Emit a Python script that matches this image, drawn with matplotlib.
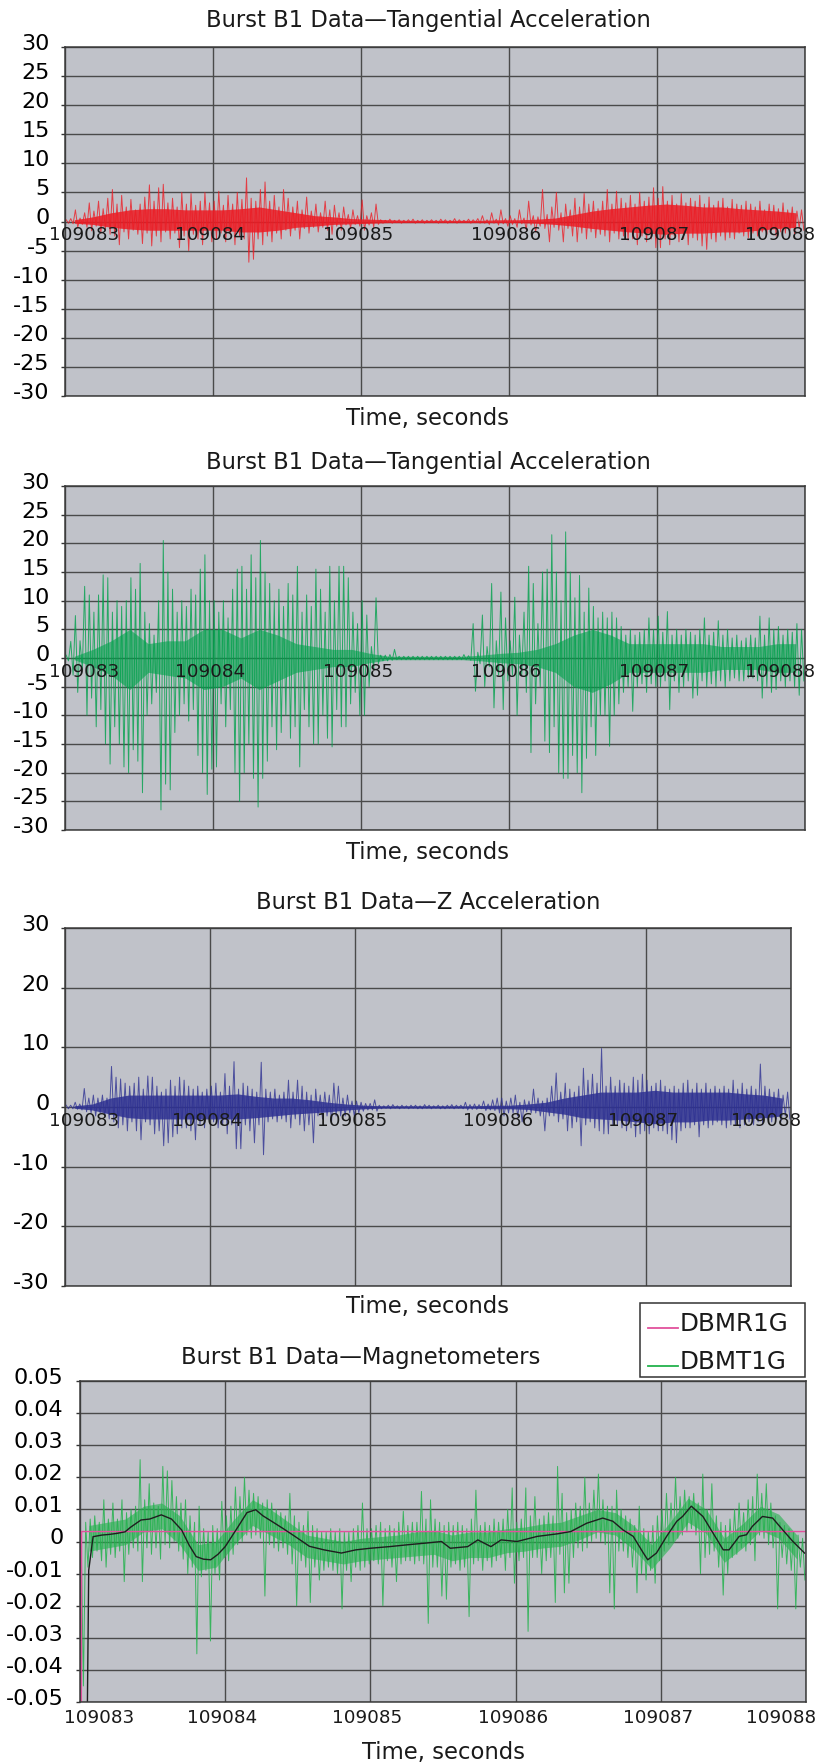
import matplotlib.pyplot as plt
from matplotlib.patches import Rectangle
from matplotlib.lines import Line2D
from matplotlib.transforms import ScaledTranslation
import numpy as np

T0, T1 = 109083, 109088
xtick_vals = [109083, 109084, 109085, 109086, 109087, 109088]

# spike tops / bottoms, one pair per 1/32 s, one row per second
red_hi = [0.3, 0.5, 2.0, 0.6, 1.5, 3.2, 1.8, 3.5, 2.2, 4.0, 5.5, 3.0, 4.5, 2.5, 3.8, 2.0, 3.0, 4.2, 6.3, 3.5, 5.8, 6.4, 3.2, 4.0, 2.5, 5.0, 3.0, 4.8, 2.8, 3.5, 5.0, 3.2,
          3.5, 5.2, 2.8, 4.5, 3.0, 5.0, 3.8, 7.5, 4.0, 3.5, 5.5, 6.8, 3.5, 4.5, 2.5, 5.5, 4.0, 2.5, 3.5, 2.0, 4.2, 1.8, 3.0, 1.5, 3.5, 2.0, 2.8, 1.5, 2.5, 1.2, 2.0, 1.0,
          3.7, 1.0, 1.5, 3.0, 0.3, 0.2, 0.4, 0.2, 0.3, 0.2, 0.3, 0.4, 0.2, 0.3, 0.2, 0.3, 0.2, 0.4, 0.3, 0.2, 0.5, 0.3, 0.2, 0.4, 0.3, 0.5, 1.0, 0.3, 1.5, 0.4, 2.0, 0.5,
          1.0, 0.5, 2.0, 0.6, 3.5, 1.0, 0.8, 5.5, 1.2, 2.5, 5.0, 1.5, 3.0, 2.0, 4.0, 2.5, 4.8, 3.0, 3.5, 2.2, 3.5, 5.5, 3.0, 5.2, 4.0, 3.2, 4.5, 3.0, 5.0, 3.5, 4.2, 5.8,
          4.0, 6.0, 3.5, 4.5, 3.0, 4.8, 3.2, 4.0, 3.5, 4.5, 3.0, 4.2, 2.8, 3.5, 4.0, 2.5, 3.8, 3.0, 2.8, 3.5, 3.0, 2.5, 3.5, 2.0, 3.0, 2.8, 2.2, 3.2, 2.0, 2.5, 1.8, 2.0]
red_lo = [-0.3, -0.4, -1.0, -0.5, -1.0, -1.6, -0.8, -2.0, -1.2, -2.2, -2.5, -4.0, -1.8, -3.0, -1.5, -2.2, -3.8, -2.0, -4.2, -2.5, -3.5, -1.8, -3.0, -2.0, -4.5, -2.5, -5.0, -2.2, -3.0, -4.0, -2.0, -3.5,
          -3.0, -2.0, -3.5, -2.2, -4.0, -2.5, -3.0, -7.0, -6.5, -3.0, -4.0, -2.5, -3.5, -2.0, -3.0, -1.5, -2.5, -1.5, -3.0, -1.2, -2.0, -1.0, -1.8, -1.0, -1.5, -2.2, -0.8, -1.5, -0.6, -1.2, -0.5, -0.8,
          -1.5, -0.6, -1.0, -0.5, -0.3, -0.2, -0.3, -0.2, -0.3, -0.2, -0.2, -0.3, -0.2, -0.3, -0.2, -0.2, -0.3, -0.2, -0.3, -0.2, -0.3, -0.2, -0.2, -0.3, -0.2, -0.3, -0.3, -0.5, -0.3, -0.6, -0.4, -0.8,
          -0.5, -1.0, -0.4, -1.5, -0.6, -1.8, -0.8, -1.2, -3.5, -1.0, -1.5, -3.5, -1.2, -2.5, -3.5, -2.0, -3.0, -1.8, -2.8, -2.2, -2.5, -3.5, -2.0, -3.0, -2.5, -3.2, -3.0, -4.0, -2.5, -3.5, -3.0, -4.5,
          -4.5, -3.0, -4.0, -2.5, -3.5, -3.0, -4.0, -2.8, -3.2, -4.2, -4.8, -3.0, -3.5, -2.5, -3.2, -2.8, -3.0, -2.0, -2.5, -2.8, -2.0, -2.5, -1.8, -2.2, -1.5, -2.5, -1.8, -2.0, -1.5, -2.2, -1.2, -1.5]
# dense core of the trace, one value per 1/8 s
red_core_hi = [0.3, 0.8, 1.5, 2.0, 2.2, 2.2, 2.0, 2.0, 2.0, 2.2, 2.5, 2.0, 1.5, 1.0, 0.8, 0.5, 0.4, 0.3, 0.2, 0.2,
               0.2, 0.2, 0.2, 0.3, 0.3, 0.4, 0.6, 1.2, 1.8, 2.2, 2.5, 2.8, 3.0, 2.8, 2.5, 2.5, 2.2, 2.0, 1.8, 1.5]
red_core_lo = [-0.3, -0.5, -1.0, -1.3, -1.5, -1.5, -1.5, -1.5, -1.5, -1.8, -1.8, -1.5, -1.0, -0.8, -0.5, -0.4, -0.3, -0.2, -0.2, -0.2,
               -0.2, -0.2, -0.2, -0.2, -0.2, -0.3, -0.5, -0.8, -1.2, -1.5, -1.8, -2.0, -2.2, -2.0, -2.0, -1.8, -1.8, -1.5, -1.2, -1.0]

green_hi = [0.5, 2.9, 7.4, 3, 12.5, 11, 8, 11, 14.5, 14, 8, 10, 9, 10, 14, 12, 16.5, 8, 6, 4, 10, 20.5, 15, 12, 8, 10, 9, 12, 11, 15.5, 18, 10,
            10, 8, 10, 7, 12, 15.5, 16, 12, 18, 14, 20.5, 15, 13, 10, 12, 9, 13, 11, 16, 8, 11, 9, 15.5, 12, 8, 16, 10, 16, 16, 14, 8, 6,
            10, 7.5, 2, 10.5, 0.5, 0.5, 0.6, 1.5, 0.3, 0.3, 0.3, 0.3, 0.3, 0.3, 0.3, 0.3, 0.3, 0.3, 0.3, 0.3, 0.3, 0.3, 0.6, 0.4, 6, 1, 7.5, 2, 13, 3, 11.5, 7,
            3, 10.6, 4, 8, 16, 13, 6, 15, 15.5, 21.5, 15, 10, 22, 15, 10.5, 14.4, 8, 12.2, 9, 7, 8, 7, 8, 7, 5.5, 4, 5, 4, 4.5, 5, 7, 5,
            7.3, 4.5, 8.1, 4, 5, 4, 5, 4.5, 4, 5, 7, 4, 4.5, 6.5, 4, 5, 3.5, 4, 3, 3.5, 4, 3.5, 7.3, 4, 7, 5, 5.5, 4, 5, 4.5, 6, 5]
green_lo = [-0.5, -3, -6, -2, -10, -7, -12, -9, -15, -18.5, -12, -15, -19, -20, -16, -18, -23.5, -10, -8, -6, -26.5, -22, -23, -13, -10, -8, -11, -9, -17, -20, -23.8, -19.4,
            -19, -8, -12, -9, -20, -25, -20, -15, -21, -26, -21, -18, -12, -16, -13, -10, -14, -12, -19, -9, -12, -15, -15, -10, -14, -15.5, -9, -12, -12, -8, -6, -10,
            -10, -5, -2, -1, -0.5, -0.5, -0.4, -0.3, -0.3, -0.3, -0.3, -0.3, -0.3, -0.3, -0.3, -0.3, -0.3, -0.3, -0.3, -0.3, -0.3, -0.3, -0.3, -0.4, -5.8, -1, -5, -1.5, -8.7, -3, -9, -4,
            -3, -10, -3, -6, -16.5, -8, -5, -14.5, -16.5, -12, -20, -21, -21, -17, -20, -23.5, -17.5, -12, -17, -10, -10, -15.4, -10, -8, -6, -5, -9.3, -5, -4.5, -6, -4.5, -5,
            -5, -4, -9, -4, -6, -5, -4, -7, -6.5, -4, -5, -4.5, -5, -4, -5, -4, -3.5, -4, -4, -3.5, -3.5, -4, -7, -5, -6, -5.5, -4, -5, -4, -5, -6.5, -4]
green_core_hi = [0.3, 1.5, 3, 5, 2.5, 3, 3, 5, 5, 3.5, 5, 4, 2.5, 2, 1.5, 1.5, 0.8, 0.3, 0.3, 0.3,
                 0.3, 0.3, 0.5, 0.8, 1, 1.5, 2.5, 4, 5, 4, 2.5, 2.5, 2.5, 2.5, 2.5, 2, 2, 2, 2.5, 2.5]
green_core_lo = [-0.3, -1.5, -3, -5.5, -2.5, -3, -3.5, -5.5, -5, -3.5, -5.5, -4, -2.5, -2, -1.5, -1.5, -0.8, -0.3, -0.3, -0.3,
                 -0.3, -0.3, -0.5, -0.8, -1, -1.5, -2.5, -5, -6, -4.5, -2.5, -2.5, -2.5, -2.5, -2.5, -2, -2, -2, -2.5, -2.5]

navy_hi = [0.3, 0.3, 0.8, 0.5, 3.1, 1.5, 2, 1.5, 2, 1.5, 6.8, 5, 4.7, 4, 3.5, 4, 5, 3, 5.2, 5, 3.5, 2.5, 3, 4.5, 3.5, 5, 4.5, 3.5, 3, 3.5, 2.5, 3,
           3.5, 4, 2.5, 5.6, 3.5, 7.6, 3, 4, 3.5, 3, 2.5, 7.5, 3, 2.5, 3, 2, 2.5, 4.5, 2.5, 4.5, 3.5, 2.5, 2, 3, 2, 2.5, 2, 4, 3.5, 1.5, 2, 1,
           1, 0.8, 0.6, 0.6, 1.2, 0.3, 0.2, 0.3, 0.4, 0.2, 0.3, 0.2, 0.3, 0.3, 0.2, 0.4, 0.3, 0.2, 0.3, 0.2, 0.3, 0.4, 0.3, 0.3, 0.8, 0.4, 0.5, 0.4, 1, 0.5, 1.2, 1.5,
           1.5, 1, 1.5, 2, 0.8, 1.2, 1, 3, 1.5, 1, 1.5, 3.5, 5.7, 2.5, 4, 3, 2.5, 3.5, 6.5, 4.5, 5.5, 4, 9.8, 3.5, 5, 3.5, 4.5, 4, 3.5, 5, 4.5, 5.5,
           4.5, 3.5, 4, 4.5, 3.5, 3, 3.5, 3, 4, 4.5, 3, 4, 3, 4, 3, 3.5, 3, 3.5, 3, 4.5, 3, 4, 3, 3.5, 3, 7.2, 3.5, 3, 2.5, 3, 2, 2.5]
navy_lo = [-0.3, -0.3, -0.4, -0.5, -0.8, -1, -1.5, -1, -1.5, -2, -2.5, -3.5, -3, -4, -2.5, -4, -5.5, -2.5, -3, -4.5, -4, -6.5, -6, -5, -4.5, -3.5, -3.5, -4, -5.5, -3, -3.5, -2,
           -2.5, -3.5, -3, -4.5, -3, -7, -7, -3, -4, -6, -3, -8, -2.5, -2, -2.5, -2, -2.5, -3.5, -2, -3, -4, -3, -6, -1.5, -2, -1.5, -2.5, -1.5, -1.5, -1.5, -1, -1.5,
           -1, -0.7, -0.5, -0.5, -0.7, -0.3, -0.2, -0.3, -0.2, -0.3, -0.2, -0.3, -0.2, -0.3, -0.3, -0.2, -0.3, -0.2, -0.3, -0.3, -0.2, -0.3, -0.2, -0.3, -0.5, -0.4, -0.4, -0.3, -0.6, -0.5, -0.6, -1,
           -1.5, -1, -1, -1.5, -2.5, -0.8, -1, -1, -1.5, -4, -1.5, -1.5, -2.5, -2, -4, -3.5, -2.5, -6.5, -3, -2.5, -3.5, -4, -4.5, -4.5, -3, -3, -3.5, -4, -3.5, -5, -4.5, -4,
           -4.5, -3.5, -4, -4, -4.5, -5.5, -6, -4, -3.5, -3.5, -3, -5, -3, -3.5, -3, -2.5, -3, -3.5, -3, -3, -3.5, -3, -2.5, -3, -2.5, -3, -2, -2.5, -2, -2.5, -1.5, -2]
navy_core_hi = [0.2, 0.5, 1.5, 2, 2, 2, 2, 2, 2, 2.2, 1.8, 1.5, 1.5, 1.2, 0.8, 0.5, 0.3, 0.2, 0.2, 0.2,
                0.2, 0.2, 0.2, 0.3, 0.3, 0.5, 0.8, 1.5, 2, 2.5, 2.5, 2.5, 2.8, 2.5, 2.5, 2.5, 2.5, 2.2, 2, 1.5]
navy_core_lo = [-0.2, -0.5, -1.2, -1.8, -2, -2, -2, -2, -2, -2, -1.8, -1.5, -1.2, -1, -0.8, -0.5, -0.3, -0.2, -0.2, -0.2,
                -0.2, -0.2, -0.2, -0.3, -0.3, -0.4, -0.8, -1.2, -1.8, -2, -2.2, -2.5, -2.8, -2.5, -2.5, -2.2, -2.2, -2, -1.8, -1.5]

# magnetometer, values in 1e-3
dbmt_hi = [2, 6, 7, 8, 6, 13, 7, 12, 7, 13, 9, 10, 11, 25.5, 13, 18, 12, 11, 23.4, 22, 19, 14, 12, 13, 8, 6, 11, 4, 3, 5, 4, 12.5,
           8, 11, 17, 14, 20, 16, 15, 14, 12, 13, 12, 10, 9, 8, 15, 8, 6, 5, 9.4, 5, 4, 3, 3, 4, 3, 4, 3, 3, 4, 5, 12, 4,
           4, 5, 6, 4, 5, 4, 6, 9.4, 5, 6, 6, 15.6, 7, 13, 7, 6, 5, 6, 5, 6, 5, 4, 7, 16, 5, 6, 5, 7, 6, 7, 10, 16.7,
           6, 7, 16.7, 8, 14, 7, 8, 9, 8, 23.4, 15, 9, 10, 12, 11, 20, 12, 16, 21, 13, 11, 11, 16, 10, 8, 7, 5, 11, 4, 3, 5, 8,
           10, 15, 12, 20, 14, 16, 14, 15, 12, 21, 10, 18, 8, 6, 5, 7, 10, 12, 9, 13, 14, 21, 15, 18, 12, 8, 6, 5, 4, 3, 2, 1]
dbmt_lo = [-45, -8, -5, -3, -6, -8, -4, -5, -3, -12.5, -4, -2, -3, -12.5, -2, -4, -2, -5.5, -1, -2, 0, -3, -5.5, -10, -8, -35, -11, -9, -31, -10, -12, -5,
           -6, -4, -1, 0, 2, 1, 2, 1, -17, -1, -2, -3, -2, -4, -7, -20, -6, -8, -19, -8, -12, -9, -8, -9, -10, -21, -9, -12.5, -8, -9, -8, -7,
           -6, -7, -20, -6, -8, -12.5, -7, -6, -6, -7, -6, -7, -25.5, -8, -8, -17, -18, -8, -7, -9, -8, -23.4, -7, -6, -9, -6, -8, -6, -5, -9, -5, -13,
           -6, -5, -28, -5, -5, -10, -6, -5, -19, -4, -16, -13, -5, -2, -3, -2, 0, 1, 0, -1, -16, -21, -3, -3, -5, -8, -16, -10, -12, -9, -13, -6,
           -3, -1, 0, 1, 2, 3, 4, 2, -10, -5, -4, -3, -8, -16.7, -10, -5, -4, -2, -3, -1, -6, 2, 1, -1, -2, -21, -5, -7, -9, -21, -8, -12]
dbmt_core_hi = [5, 6, 7, 11, 12, 8, -1, 0, 7, 13, 10, 6, 2, 1, 0, 1, 1.5, 2, 3, 3.5,
                2, 3, 3, 4, 4.5, 5.5, 6, 8, 10, 9, 5, -1, 6, 13.5, 10, 1, 5.5, 11, 8.5, 2]
dbmt_core_lo = [-3, -2, -1, 3, 4, -1, -9, -8, -1, 5, 2, -1, -5, -6, -7, -6, -5.5, -5, -4.5, -4,
                -6, -5, -5, -3.5, -3, -2, -1.5, 0.5, 3, 2, -2.5, -8.5, -2, 6, 2.5, -6.5, -2, 3.5, 1, -5.5]

smooth_t = [0.05, 0.06, 0.09, 0.15, 0.20, 0.25, 0.31, 0.35, 0.42, 0.48, 0.56, 0.63, 0.70, 0.75, 0.80, 0.85, 0.90, 0.95, 1.00, 1.09,
            1.15, 1.21, 1.26, 1.32, 1.40, 1.48, 1.58, 1.68, 1.80, 1.90, 2.00, 2.13, 2.26, 2.38, 2.49, 2.55, 2.67, 2.74, 2.83, 2.90,
            3.01, 3.15, 3.29, 3.38, 3.49, 3.60, 3.67, 3.74, 3.81, 3.88, 3.91, 3.97, 4.04, 4.11, 4.15, 4.21, 4.29, 4.36, 4.43, 4.47,
            4.54, 4.59, 4.63, 4.70, 4.77, 4.84, 4.91, 4.99]
smooth_v = [-55, -9, 1.5, 2.0, 2.2, 2.5, 3.0, 4.5, 6.7, 7.0, 8.3, 7.0, 3.6, -1.0, -4.7, -5.5, -5.7, -4.0, -1.6, 4.7,
            9.0, 9.9, 8.0, 6.3, 4.0, 1.6, -1.5, -2.6, -3.6, -2.6, -2.1, -1.6, -1.0, -0.5, 0.0, -2.1, -1.6, 0.5, -1.6, 0.5,
            0.0, 1.6, 2.4, 3.1, 5.7, 7.3, 6.3, 3.6, 1.6, -3.6, -5.7, -3.6, 1.6, 6.3, 7.8, 11.0, 7.8, 2.6, -2.6, -2.6,
            1.6, 2.1, 4.7, 7.8, 7.3, 3.6, 0.0, -3.6]
dbmr_t = [0.009, 0.011, 5.0]
dbmr_v = [-55, 3.1, 3.1]

W, H = 834, 1764
BG = '#c0c2c9'
GRID = '#4a4a4a'


def zigzag(hi, lo):
    hi = np.asarray(hi, float)
    lo = np.asarray(lo, float)
    dt = (T1 - T0) / len(hi)
    t = T0 + dt * np.arange(len(hi))
    x = np.column_stack([t + 0.25 * dt, t + 0.75 * dt]).ravel()
    y = np.column_stack([hi, lo]).ravel()
    return x, y


def core(ax, hi, lo, col, alpha, scale=1.0):
    dt = (T1 - T0) / len(hi)
    t = T0 + dt * (np.arange(len(hi)) + 0.5)
    ax.fill_between(t, np.asarray(lo) * scale, np.asarray(hi) * scale, color=col, lw=0, alpha=alpha)


def box(l, t, r, b):
    return [l / W, 1 - b / H, (r - l) / W, (b - t) / H]


fig = plt.figure(figsize=(W / 100, H / 100), dpi=100)


def ptext(x, y, s, **kw):
    fig.text(x / W, 1 - y / H, s, va='baseline', **kw)


def style(ax, ylim, yticks, ylabels, pad):
    ax.set_facecolor(BG)
    ax.set_xlim(T0, T1)
    ax.set_ylim(*ylim)
    ax.set_xticks(xtick_vals)
    ax.set_yticks(yticks)
    ax.set_yticklabels(ylabels)
    ax.grid(True, color=GRID, lw=1.0)
    ax.set_axisbelow(True)
    ax.tick_params(axis='x', length=0, labelbottom=False)
    ax.tick_params(axis='y', length=3, width=1, color='#333333', pad=pad, labelsize=16)
    # Excel draws the value labels a few pixels above their gridlines
    up = ScaledTranslation(0, 5 / 100, fig.dpi_scale_trans)
    for lbl in ax.get_yticklabels():
        lbl.set_transform(lbl.get_transform() + up)
    for s in ax.spines.values():
        s.set_color('#3a3a3a')
        s.set_linewidth(1.1)


def xlabels(ax, y0, dy):
    for i, t in enumerate(xtick_vals):
        dx = -3
        if i == 0:
            dx = 19
        elif i == len(xtick_vals) - 1:
            dx = -25
        ax.annotate(str(t), xy=(t, y0), xytext=(dx, -dy), textcoords='offset pixels',
                    ha='center', va='top', fontsize=13.2, color='#1a1a1a',
                    annotation_clip=False, zorder=5)


acc_ticks = list(range(30, -31, -5))
acc_labels = [str(v) for v in acc_ticks]
z_ticks = list(range(30, -31, -10))
z_labels = [str(v) for v in z_ticks]
mag_ticks = [0.05, 0.04, 0.03, 0.02, 0.01, 0, -0.01, -0.02, -0.03, -0.04, -0.05]
mag_labels = ['0.05', '0.04', '0.03', '0.02', '0.01', '0', '-0.01', '-0.02', '-0.03', '-0.04', '-0.05']

panels = [
    (box(65, 47, 805, 396), red_hi, red_lo, red_core_hi, red_core_lo, '#ec1c24', 0.85, acc_ticks, acc_labels,
     'Burst B1 Data\u2014Tangential Acceleration', 428, 27, 425),
    (box(65, 486, 805, 830), green_hi, green_lo, green_core_hi, green_core_lo, '#00a14b', 0.6, acc_ticks, acc_labels,
     'Burst B1 Data\u2014Tangential Acceleration', 428, 469, 859),
    (box(65, 928, 791, 1286), navy_hi, navy_lo, navy_core_hi, navy_core_lo, '#2e3192', 0.85, z_ticks, z_labels,
     'Burst B1 Data\u2014Z Acceleration', 428, 909, 1313),
]

for rect, hi, lo, chi, clo, col, calpha, yt, yl, title, tx, ty, ly in panels:
    ax = fig.add_axes(rect)
    style(ax, (-30, 30), yt, yl, 8)
    core(ax, chi, clo, col, calpha)
    x, y = zigzag(hi, lo)
    ax.plot(x, y, color=col, lw=0.7, alpha=0.8)
    xlabels(ax, 0, 5)
    ptext(tx, ty, title, ha='center', fontsize=16.3, color='#1a1a1a')
    ptext(428, ly, 'Time, seconds', ha='center', fontsize=16.4, color='#1a1a1a')

# magnetometers
ax = fig.add_axes(box(80, 1381, 806, 1702))
style(ax, (-0.05, 0.05), mag_ticks, mag_labels, 9)
core(ax, dbmt_core_hi, dbmt_core_lo, '#22b24c', 0.6, 1e-3)
x, y = zigzag(dbmt_hi, dbmt_lo)
ax.plot(x, np.asarray(y) * 1e-3, color='#22b24c', lw=0.7, alpha=0.85)
ax.plot(T0 + np.asarray(dbmr_t), np.asarray(dbmr_v) * 1e-3, color='#e2509c', lw=1.0)
ax.plot(T0 + np.asarray(smooth_t), np.asarray(smooth_v) * 1e-3, color='#1e1e1e', lw=1.0)
xlabels(ax, -0.05, 7)
ptext(361, 1364, 'Burst B1 Data\u2014Magnetometers', ha='center', fontsize=16.3, color='#1a1a1a')
ptext(443, 1759, 'Time, seconds', ha='center', fontsize=16.4, color='#1a1a1a')

# legend
fig.add_artist(Rectangle((640 / W, 1 - 1377 / H), 165 / W, 74 / H, transform=fig.transFigure,
                         facecolor='white', edgecolor='#333333', lw=1.1))
for name, col, ly in [('DBMR1G', '#e2509c', 1328), ('DBMT1G', '#22b24c', 1366)]:
    fig.add_artist(Line2D([648 / W, 678 / W], [1 - ly / H] * 2, transform=fig.transFigure,
                          color=col, lw=1.3))
    ptext(680, ly + 3, name, ha='left', fontsize=17.7, color='#1a1a1a')

fig.savefig('out.png', dpi=100, facecolor='white')
